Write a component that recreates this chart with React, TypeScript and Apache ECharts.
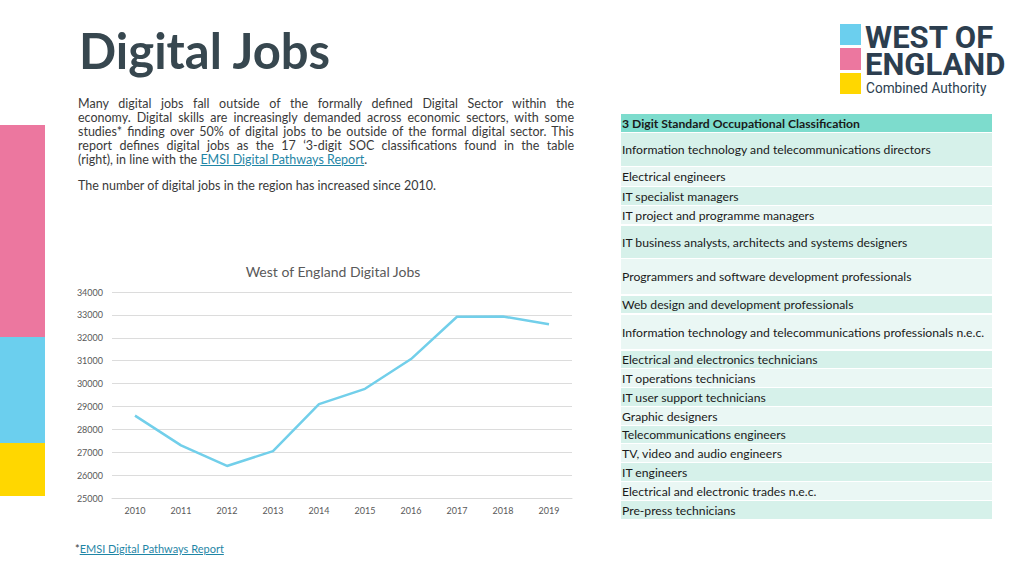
import React, { useEffect, useRef } from "react";
import * as echarts from "echarts";

// ---------- data ----------
const years = ["2010", "2011", "2012", "2013", "2014", "2015", "2016", "2017", "2018", "2019"];
const digitalJobs = [28600, 27300, 26400, 27050, 29100, 29770, 31070, 32920, 32930, 32590];
const yMin = 25000;
const yMax = 34000;
const yStep = 1000;

const chartTitle = "West of England Digital Jobs";
const pageTitle = "Digital Jobs";

const socHeader = "3 Digit Standard Occupational Classification";
const socRows = [
  "Information technology and telecommunications directors",
  "Electrical engineers",
  "IT specialist managers",
  "IT project and programme managers",
  "IT business analysts, architects and systems designers",
  "Programmers and software development professionals",
  "Web design and development professionals",
  "Information technology and telecommunications professionals n.e.c.",
  "Electrical and electronics technicians",
  "IT operations technicians",
  "IT user support technicians",
  "Graphic designers",
  "Telecommunications engineers",
  "TV, video and audio engineers",
  "IT engineers",
  "Electrical and electronic trades n.e.c.",
  "Pre-press technicians",
];

const paragraphLines = [
  "Many digital jobs fall outside of the formally defined Digital Sector within the",
  "economy. Digital skills are increasingly demanded across economic sectors, with some",
  "studies* finding over 50% of digital jobs to be outside of the formal digital sector. This",
  "report defines digital jobs as the 17 \u20183-digit SOC classifications found in the table",
];
const lastLinePrefix = "(right), in line with the ";
const linkText = "EMSI Digital Pathways Report";
const secondParagraph = "The number of digital jobs in the region has increased since 2010.";

const logoName = "WEST OF\nENGLAND";
const logoSub = "Combined Authority";

// ---------- layout (positions only) ----------
const rowLayout: [number, number][] = [
  [133, 166], [167, 186], [187, 205], [206, 224], [226, 258], [259, 294], [296, 313], [315, 349],
  [351, 368], [369, 387], [388, 406], [407, 425], [426, 443], [444, 462], [463, 481], [482, 500], [501, 519],
];

const FONT = "Lato, 'Open Sans', sans-serif";
const LINK = "#1f86a6";

export default function App() {
  const ref = useRef<HTMLDivElement>(null);

  useEffect(() => {
    if (!ref.current) return;
    const chart = echarts.init(ref.current, undefined, { renderer: "svg" });

    const graphics: any[] = [];
    // side colour bars
    graphics.push({ type: "rect", shape: { x: 0, y: 125, width: 45, height: 212 }, style: { fill: "#ec779f" } });
    graphics.push({ type: "rect", shape: { x: 0, y: 337, width: 45, height: 106 }, style: { fill: "#6bcfee" } });
    graphics.push({ type: "rect", shape: { x: 0, y: 443, width: 45, height: 53 }, style: { fill: "#ffd700" } });

    // page title
    graphics.push({
      type: "text",
      x: 79,
      y: 25,
      style: { text: pageTitle, fill: "#37474f", font: `bold 49px ${FONT}`, align: "left", verticalAlign: "top" },
    });

    // logo
    graphics.push({ type: "rect", shape: { x: 840, y: 24, width: 21, height: 21 }, style: { fill: "#6bcfee" } });
    graphics.push({ type: "rect", shape: { x: 840, y: 48, width: 21, height: 22 }, style: { fill: "#ec779f" } });
    graphics.push({ type: "rect", shape: { x: 840, y: 73, width: 21, height: 21 }, style: { fill: "#ffd700" } });
    graphics.push({
      type: "text", x: 865, y: 24,
      style: { text: logoName, fill: "#2c3e4f", font: `bold 31px Roboto, sans-serif`, lineHeight: 27, verticalAlign: "top" },
    });
    graphics.push({
      type: "text", x: 866, y: 81, scaleX: 0.975,
      style: { text: logoSub, fill: "#2c3e4f", font: `14px Roboto, sans-serif`, verticalAlign: "top" },
    });

    // table
    graphics.push({ type: "rect", shape: { x: 621, y: 114, width: 371, height: 18 }, style: { fill: "#7ddccd" } });
    graphics.push({
      type: "text", x: 622, y: 123,
      style: { text: socHeader, fill: "#1a1a1a", font: `bold 12.2px ${FONT}`, verticalAlign: "middle" },
    });
    socRows.forEach((name, i) => {
      const [t, b] = rowLayout[i];
      graphics.push({
        type: "rect",
        shape: { x: 621, y: t, width: 371, height: b - t },
        style: { fill: i % 2 === 0 ? "#d6f1ea" : "#eaf7f4" },
      });
      graphics.push({
        type: "text", x: 622, y: (t + b) / 2,
        style: { text: name, fill: "#1a1a1a", font: `12.2px ${FONT}`, verticalAlign: "middle" },
      });
    });

    chart.setOption({
      animation: false,
      title: {
        text: chartTitle,
        left: 328,
        top: 259,
        textAlign: "center",
        textStyle: { fontFamily: FONT, fontSize: 14, fontWeight: "normal", color: "#595959" },
      },
      grid: { left: 112, right: 452, top: 292, bottom: 78, containLabel: false },
      xAxis: {
        type: "category",
        data: years,
        boundaryGap: true,
        axisLine: { show: true, lineStyle: { color: "#d9d9d9" } },
        axisTick: { show: false },
        axisLabel: { color: "#595959", fontSize: 9, fontFamily: FONT, margin: 8 },
      },
      yAxis: {
        type: "value",
        min: yMin,
        max: yMax,
        interval: yStep,
        axisLine: { show: false },
        axisTick: { show: false },
        splitLine: { lineStyle: { color: "#dcdcdc", width: 1 } },
        axisLabel: {
          color: "#595959",
          fontSize: 9,
          fontFamily: FONT,
          margin: 9,
          formatter: (v: number) => String(v),
        },
      },
      series: [
        {
          type: "line",
          data: digitalJobs,
          showSymbol: false,
          symbol: "none",
          lineStyle: { color: "#72cfea", width: 2.5 },
        },
      ],
      graphic: graphics,
    });

    return () => chart.dispose();
  }, []);

  const lineStyle: React.CSSProperties = {
    whiteSpace: "nowrap",
    textAlign: "justify",
    textAlignLast: "justify",
    height: 14,
  };

  return (
    <div style={{ position: "fixed", left: 0, top: 0, width: 1024, height: 576, background: "#fff", overflow: "hidden" }}>
      <div ref={ref} style={{ position: "absolute", left: 0, top: 0, width: 1024, height: 576 }} />
      <div
        style={{
          position: "absolute",
          left: 78,
          top: 97,
          width: 496,
          fontFamily: FONT,
          fontSize: 12.5,
          lineHeight: "14px",
          color: "#3a3a3a",
        }}
      >
        {paragraphLines.map((l, i) => (
          <div key={i} style={lineStyle}>{l}</div>
        ))}
        <div style={{ whiteSpace: "nowrap", height: 14 }}>
          {lastLinePrefix}
          <span style={{ color: LINK, textDecoration: "underline" }}>{linkText}</span>.
        </div>
        <div style={{ whiteSpace: "nowrap", marginTop: 12 }}>{secondParagraph}</div>
      </div>
      <div
        style={{
          position: "absolute",
          left: 75,
          top: 542,
          fontFamily: FONT,
          fontSize: 11,
          color: "#3a3a3a",
          whiteSpace: "nowrap",
        }}
      >
        *<span style={{ color: LINK, textDecoration: "underline" }}>{linkText}</span>
      </div>
    </div>
  );
}
